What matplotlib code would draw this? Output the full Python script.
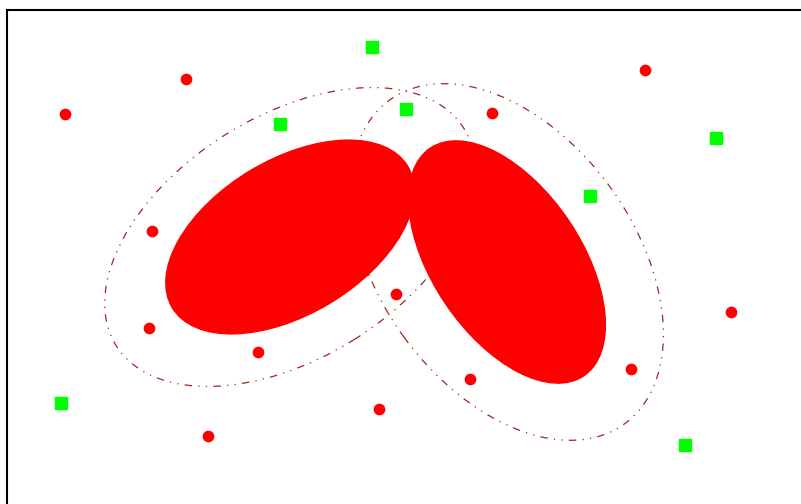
import numpy as np
import matplotlib
matplotlib.use("Agg")
import matplotlib.pyplot as plt
from matplotlib.patches import Ellipse

# red circles (x, y)
red_x = [1.79, 0.58, 6.38, 4.85, 1.45, 1.42, 2.51, 3.89, 4.63, 3.72, 2.01, 6.24, 7.24]
red_y = [4.25, 3.90, 4.34, 3.91, 2.73, 1.76, 1.52, 2.10, 1.25, 0.95, 0.68, 1.35, 1.92]

# green squares (x, y)
green_x = [3.65, 3.99, 2.73, 7.09, 5.83, 0.54, 6.78]
green_y = [4.57, 3.95, 3.80, 3.66, 3.08, 1.01, 0.59]

# two clusters: centre, angle, filled size and outer contour size
centers = [(2.83, 2.67), (5.00, 2.42)]
inner_angles = [31, -56]
inner_w = [2.76, 2.76]
inner_h = [1.56, 1.50]
outer_angles = [32, -54]
outer_w = [4.10, 4.00]
outer_h = [2.42, 2.55]

fig = plt.figure(figsize=(8.01, 5.04), dpi=100)
ax = fig.add_axes([7 / 801, 0, 794 / 801, 494 / 504])

for c, a, w, h in zip(centers, outer_angles, outer_w, outer_h):
    ax.add_patch(Ellipse(c, w, h, angle=a, fill=False, edgecolor='#9b2a1a',
                         lw=0.9, linestyle=(0, (6, 5, 1, 5, 1, 5)), zorder=1))

for c, a, w, h in zip(centers, inner_angles, inner_w, inner_h):
    ax.add_patch(Ellipse(c, w, h, angle=a, facecolor='#ff0000',
                         edgecolor='none', zorder=2))

ax.scatter(red_x, red_y, s=55, c='#ff0000', marker='o', zorder=3)
ax.scatter(green_x, green_y, s=75, c='#00ff00', marker='s', zorder=3)

ax.set_xlim(0, 7.94)
ax.set_ylim(0, 4.94)
ax.set_xticks([])
ax.set_yticks([])
ax.spines['right'].set_visible(False)
ax.spines['bottom'].set_visible(False)
ax.spines['left'].set_linewidth(1.5)
ax.spines['top'].set_linewidth(1.5)

fig.savefig('out.png', dpi=100)
